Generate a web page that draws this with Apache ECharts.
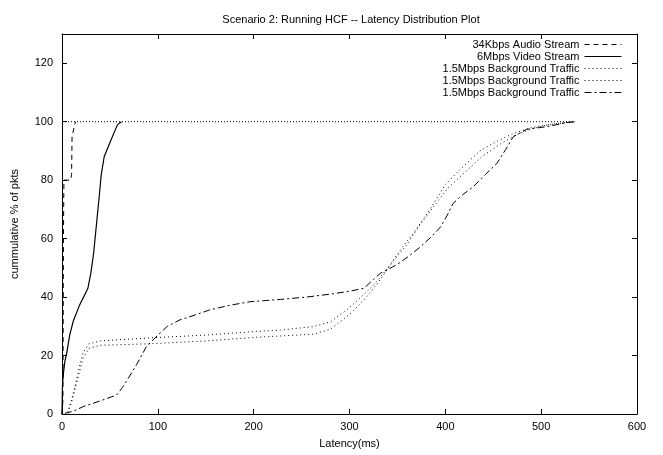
<!DOCTYPE html>
<html>
<head>
<meta charset="utf-8">
<script src="https://cdn.jsdelivr.net/npm/echarts@6/dist/echarts.min.js"></script>
<style>
  html, body { margin: 0; padding: 0; background: #fff; }
  #chart { width: 663px; height: 455px; }
</style>
</head>
<body>
<div id="chart"></div>
<script>
// 各系列のデータ [latency(ms), cumulative %]
var audioData = [[0, 0], [1, 5], [1.5, 60], [2, 80], [9, 80], [10, 82], [10.5, 95], [14, 100]];
var videoData = [[0, 0], [0.5, 10], [1.5, 14], [3, 18], [5, 21], [8, 27], [12, 32], [18, 37],
    [24, 41], [27, 43], [30, 48], [33, 55], [36, 65], [39, 75], [41, 82], [44, 88],
    [49, 92], [54, 96], [58, 99], [62, 100]];
var bg1Data = [[6, 0.5], [10, 5], [14, 10], [18, 16], [22, 21], [28, 24], [40, 25], [90, 26],
    [150, 27], [200, 28.2], [228, 28.7], [262, 29.9], [280, 31.5], [297, 35.6], [312, 40],
    [325, 44], [340, 50], [355, 57], [367, 62], [384, 70], [400, 78.5], [415, 83.5],
    [436, 90], [455, 93.5], [471, 96], [490, 98], [505, 98.8], [520, 99.5], [535, 100]];
var bg2Data = [[6, 0.5], [10, 4], [14, 9], [18, 14], [22, 19], [28, 22.5], [40, 23.5], [90, 24],
    [150, 25], [200, 26.2], [228, 26.7], [262, 27.3], [280, 29], [300, 34], [315, 39],
    [330, 45], [345, 52], [360, 58], [372, 64], [388, 71], [402, 77], [418, 82],
    [438, 88], [458, 92.5], [474, 95.5], [492, 97.8], [508, 99], [535, 100]];
var bg3Data = [[3, 0.2], [12, 1], [22, 2.5], [40, 4.5], [57, 6.5], [63, 9], [68, 11.6], [78, 17],
    [88, 23], [100, 27], [110, 30], [123, 32.2], [140, 34], [154, 35.6], [175, 37.2],
    [196, 38.4], [228, 39.2], [255, 40], [280, 41], [300, 42], [315, 43], [325, 46],
    [332, 48.1], [349, 51], [362, 54], [374, 57.2], [385, 60.5], [395, 64], [402, 68],
    [408, 72], [418, 75], [429, 77.7], [442, 82], [454, 85.8], [463, 90.5], [471, 94.9],
    [485, 97.4], [506, 98.3], [527, 99.7], [535, 100]];
var refData = [[0, 100], [535, 100]];  // 100%の点線

var seriesNames = ['audio', 'video', 'bg1', 'bg2', 'bg3'];
var legendLabels = {
    audio: '34Kbps Audio Stream',
    video: '6Mbps Video Stream',
    bg1: '1.5Mbps Background Traffic',
    bg2: '1.5Mbps Background Traffic',
    bg3: '1.5Mbps Background Traffic'
};

var font = '"Liberation Sans", Arial, sans-serif';

function lineSeries(name, data, dash, width) {
    return {
        name: name,
        type: 'line',
        data: data,
        symbol: 'none',
        color: '#000',
        animation: false,
        lineStyle: { color: '#000', width: width || 1, type: dash }
    };
}

function frameAxis(pos, max, interval) {
    return {
        type: 'value', position: pos, min: 0, max: max, interval: interval,
        axisLine: { show: true, onZero: false, lineStyle: { color: '#000', width: 1 } },
        axisTick: { show: true, inside: true, length: 5, lineStyle: { color: '#000' } },
        axisLabel: { show: false },
        splitLine: { show: false }
    };
}

var chart = echarts.init(document.getElementById('chart'));
chart.setOption({
    animation: false,
    title: {
        text: 'Scenario 2: Running HCF -- Latency Distribution Plot',
        left: 346,
        top: 9,
        textAlign: 'center',
        textStyle: { fontFamily: font, fontSize: 11, fontWeight: 'normal', color: '#000' }
    },
    legend: {
        data: seriesNames,
        orient: 'vertical',
        right: 41,
        top: 39,
        align: 'right',
        padding: 0,
        itemGap: 1,
        itemWidth: 37,
        itemHeight: 11,
        itemStyle: { opacity: 0 },
        lineStyle: { width: 1 },
        formatter: function(name) { return legendLabels[name]; },
        textStyle: { fontFamily: font, fontSize: 11, color: '#000' }
    },
    grid: { left: 62, right: 26, top: 34, bottom: 41 },
    xAxis: [{
        type: 'value', position: 'bottom', min: 0, max: 600, interval: 100,
        name: 'Latency(ms)', nameLocation: 'middle', nameGap: 24,
        nameTextStyle: { fontFamily: font, fontSize: 11, color: '#000' },
        axisLine: { onZero: false, lineStyle: { color: '#000', width: 1 } },
        axisTick: { inside: true, length: 5, lineStyle: { color: '#000' } },
        axisLabel: { fontFamily: font, fontSize: 11, color: '#000', margin: 7 },
        splitLine: { show: false }
    }, frameAxis('top', 600, 100)],
    yAxis: [{
        type: 'value', position: 'left', min: 0, max: 130, interval: 20,
        name: 'cummulative % of pkts', nameLocation: 'middle', nameGap: 42,
        nameTextStyle: { fontFamily: font, fontSize: 11, color: '#000' },
        axisLine: { show: true, onZero: false, lineStyle: { color: '#000', width: 1 } },
        axisTick: { inside: true, length: 5, lineStyle: { color: '#000' } },
        axisLabel: { fontFamily: font, fontSize: 11, color: '#000', margin: 9, showMaxLabel: false },
        splitLine: { show: false }
    }, frameAxis('right', 130, 20)],
    series: [
        lineSeries('audio', audioData, [5, 4]),
        lineSeries('video', videoData, 'solid', 1.2),
        lineSeries('bg1', bg1Data, [1, 3]),
        lineSeries('bg2', bg2Data, [1, 3]),
        lineSeries('bg3', bg3Data, [7, 3, 2, 3]),
        lineSeries('ref', refData, [1, 2])
    ]
});
</script>
</body>
</html>
